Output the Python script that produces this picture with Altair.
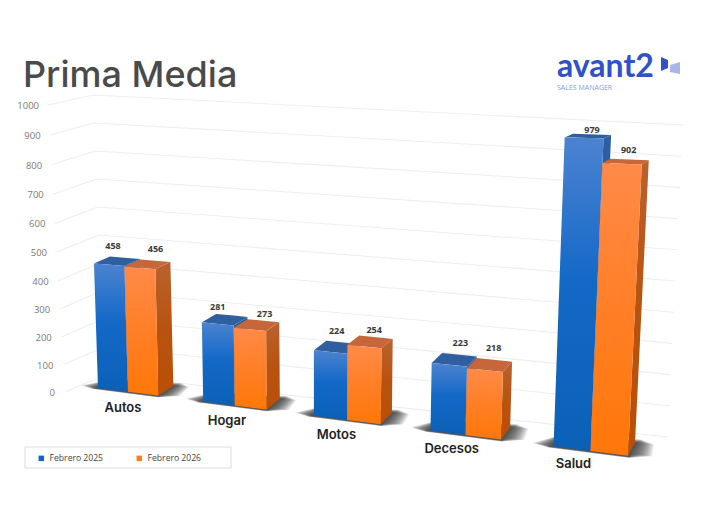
import altair as alt
import pandas as pd

# ---- data ----
CATEGORIES = ["Autos", "Hogar", "Motos", "Decesos", "Salud"]
SERIES = ["Febrero 2025", "Febrero 2026"]
FEB_2025 = [458, 281, 224, 223, 979]
FEB_2026 = [456, 273, 254, 218, 902]
TICKS = [0, 100, 200, 300, 400, 500, 600, 700, 800, 900, 1000]

# ---- perspective layout (bar-width units -> page pixels) ----
GROUP_STEP = 3.45
LABEL_DX = [[-4, 8], [-7, 8], [0, 4], [6, 4], [4, 3]]
LABEL_DY = [[-15, -15], [-13, -11], [-16, -12], [-17, -17], [-6, -12]]


def proj(X, d, v):
    c = 1 - 0.00719 * X
    x0 = (29.03 * X + 98) / c
    y0 = 388 + 0.128 * (x0 - 98)
    h = 0.272 / (1 - 0.0100 * X) * v
    x = x0 + (x0 - 313) * 0.00015 * h
    y = y0 - h
    x += d * (16 - (x0 - 98) * 0.017)
    y -= d * (10 + (x0 - 158) * 0.0064) * (1 - h * 0.0023)
    return x, y


def convex_rows(poly, name):
    xs = sorted({round(p[0], 2) for p in poly})
    rows = []
    n = len(poly)
    for x in xs:
        ys = []
        for i in range(n):
            (ax, ay), (bx, by) = poly[i], poly[(i + 1) % n]
            ax, bx = round(ax, 2), round(bx, 2)
            if ax == bx:
                if ax == x:
                    ys += [ay, by]
            elif min(ax, bx) <= x <= max(ax, bx):
                ys.append(ay + (by - ay) * (x - ax) / (bx - ax))
        rows.append({"x": x, "y": round(min(ys), 2), "y2": round(max(ys), 2), "poly": name})
    return rows


X_ENC = alt.X("x:Q", scale=alt.Scale(domain=[8, 696], nice=False, zero=False), axis=None)
Y_ENC = alt.Y("y:Q", scale=alt.Scale(domain=[520, 8], nice=False, zero=False), axis=None)


def grad(*stops):
    return {
        "gradient": "linear", "x1": 0, "x2": 0, "y1": 0, "y2": 1,
        "stops": [{"offset": o, "color": c} for o, c in stops],
    }


def poly_layer(rows, fill, **kw):
    return alt.Chart(pd.DataFrame(rows)).mark_area(color=fill, orient="vertical", **kw).encode(
        x=X_ENC, y=Y_ENC, y2="y2:Q", detail="poly:N"
    )


layers = []

# grid lines
grid = []
for v in TICKS:
    s = 0.272 + 0.000015 * v
    front = (65 - 0.017 * v, 392 - s * v)
    corner = (105 - 0.012 * v, 375 - 0.28 * v)
    right = (668 + 0.015 * v, 437 - 0.312 * v)
    for i, p in enumerate([front, corner, right]):
        grid.append({"x": p[0], "y": p[1], "v": v, "i": i})
layers.append(
    alt.Chart(pd.DataFrame(grid)).mark_line(color="#eeeeee", strokeWidth=1.1).encode(
        x=X_ENC, y=Y_ENC, detail="v:N", order="i:Q"
    )
)

# y axis labels
ylabels = [{"x": 55 - 0.016 * v, "y": 393 - (0.272 + 0.000015 * v) * v, "t": str(v)} for v in TICKS]
layers.append(
    alt.Chart(pd.DataFrame(ylabels)).mark_text(
        align="right", baseline="middle", fontSize=9.5, font="Open Sans", color="#7a7a7a"
    ).encode(x=X_ENC, y=Y_ENC, text="t:N")
)

# soft floor shadows: many nested faint outlines build up a blur
STEPS = 18
for k in range(STEPS):
    e = 1 - k / STEPS
    rows = []
    for g in range(len(CATEGORIES)):
        X0 = g * GROUP_STEP
        X2 = X0 + 2
        shape = [
            proj(X0 - 0.6 * e, 0.05, 0),
            proj(X0 - 0.1, -0.04 - 0.1 * e, 0),
            proj(X2 + 0.05, -0.04 - 0.1 * e, 0),
            proj(X2 + 0.6 * e, 0.2, 0),
            proj(X2 + 0.5 * e, 1.0 + 0.05 * e, 0),
            proj(X2 + 0.1, 1.0 + 0.3 * e, 0),
            proj(X0, 0.9, 0),
        ]
        rows += convex_rows(shape, f"s{k}-{g}")
    layers.append(poly_layer(rows, "#222222", opacity=0.08))

# hidden layer that feeds the real legend
legend_rows = [{"x": proj(0.5, 0, 200)[0], "y": proj(0.5, 0, 200)[1], "serie": s} for s in SERIES]
legend_frame = alt.Chart(pd.DataFrame({"x": [25], "x2": [231], "y": [447], "y2": [468]})).mark_rect(
    fill="white", stroke="#dcdcdc", strokeWidth=1
).encode(x=X_ENC, x2="x2:Q", y=Y_ENC, y2="y2:Q")
layers.append(legend_frame)
layers.append(
    alt.Chart(pd.DataFrame(legend_rows)).mark_square(size=1, opacity=1).encode(
        x=X_ENC,
        y=Y_ENC,
        color=alt.Color(
            "serie:N",
            scale=alt.Scale(domain=SERIES, range=["#1565c0", "#ff7a1a"]),
            legend=alt.Legend(
                orient="none", legendX=29, legendY=446, direction="horizontal", title=None,
                symbolType="square", symbolSize=30, labelFontSize=8.6, labelFont="Open Sans",
                labelFontWeight=500, labelColor="#444444", columnPadding=31, padding=0,
                symbolStrokeWidth=0, labelOffset=4,
            ),
        ),
    )
)

# bars
FACE = {
    0: dict(
        side=grad((0, "#2f5f9e"), (1, "#1f4f8e")),
        top="#2f5f9f",
        front=grad((0, "#4c83d0"), (0.45, "#1469c8"), (1, "#0b60b6")),
    ),
    1: dict(
        side=grad((0, "#b9622f"), (0.5, "#b8530f"), (1, "#b94f08")),
        top="#c5673a",
        front=grad((0, "#ff8a48"), (0.5, "#ff7f26"), (1, "#ff7708")),
    ),
}
for j, values in enumerate([FEB_2025, FEB_2026]):
    side, top, front = [], [], []
    for g, v in enumerate(values):
        X = g * GROUP_STEP + j
        side += convex_rows(
            [proj(X + 1, 0, v), proj(X + 1, 1, v), proj(X + 1, 1, 0), proj(X + 1, 0, 0)], f"side{g}"
        )
        top += convex_rows(
            [proj(X, 0, v), proj(X, 1, v), proj(X + 1, 1, v), proj(X + 1, 0, v)], f"top{g}"
        )
        front += convex_rows(
            [proj(X, 0, v), proj(X + 1, 0, v), proj(X + 1, 0, 0), proj(X, 0, 0)], f"front{g}"
        )
    layers.append(poly_layer(side, FACE[j]["side"]))
    layers.append(poly_layer(top, FACE[j]["top"]))
    layers.append(poly_layer(front, FACE[j]["front"]))

# value labels
vlabels = []
for j, values in enumerate([FEB_2025, FEB_2026]):
    for g, v in enumerate(values):
        px, py = proj(g * GROUP_STEP + j + 0.5, 0.5, v)
        vlabels.append({"x": px + LABEL_DX[g][j], "y": py + LABEL_DY[g][j], "t": str(v)})
layers.append(
    alt.Chart(pd.DataFrame(vlabels)).mark_text(
        fontSize=9, fontWeight=700, font="Open Sans", color="#3a3a3a", baseline="middle"
    ).encode(x=X_ENC, y=Y_ENC, text="t:N")
)

# category labels
clabels = []
for g, c in enumerate(CATEGORIES):
    px, py = proj(g * GROUP_STEP + 1, 0, 0)
    clabels.append({"x": px - 5 - (px - 128) * 0.026, "y": py + 16.5 - (px - 128) * 0.008, "t": c})
layers.append(
    alt.Chart(pd.DataFrame(clabels)).mark_text(
        fontSize=13, fontWeight=600, font="Inter", color="#222222", baseline="middle"
    ).encode(x=X_ENC, y=Y_ENC, text="t:N")
)

# title and logo
def text_layer(x, y, t, **kw):
    return alt.Chart(pd.DataFrame({"x": [x], "y": [y], "t": [t]})).mark_text(
        align="left", baseline="alphabetic", **kw
    ).encode(x=X_ENC, y=Y_ENC, text="t:N")


layers.append(text_layer(23, 87, "Prima Media", fontSize=36, fontWeight=500, font="Inter", color="#4a4a4a"))
layers.append(text_layer(557, 77, "avant2", fontSize=32, fontWeight=700, font="Lato", color="#2f52c9"))
layers.append(text_layer(557, 90, "SALES MANAGER", fontSize=7, font="Open Sans", color="#8c9bd8"))
layers.append(poly_layer(convex_rows([(661, 57), (668, 60), (668, 68), (661, 71)], "a"), "#2f52c9"))
layers.append(poly_layer(convex_rows([(670, 65), (680, 62), (680, 74), (670, 72)], "b"), "#a9b5e6"))

chart = alt.layer(*layers).properties(
    width=688, height=512, padding=0, autosize=alt.AutoSizeParams(type="none"), background="white"
).configure_view(stroke=None)

chart.save("out.html", embed_options={"renderer": "svg", "actions": False})
